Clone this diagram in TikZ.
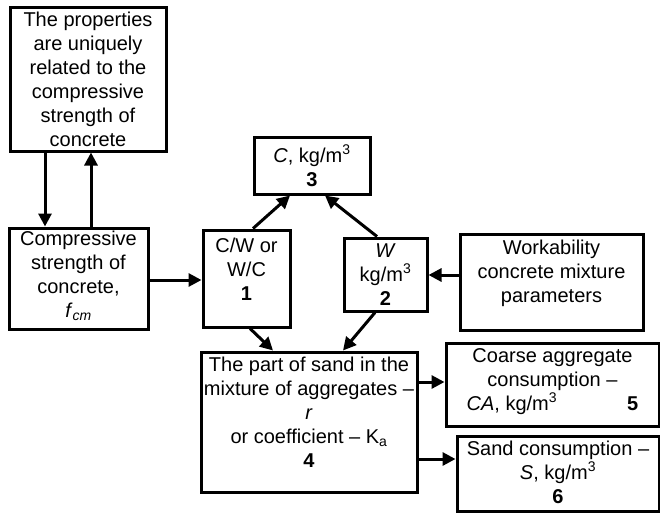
\documentclass[tikz,border=0pt]{standalone}
\usepackage{fontspec}
\setmainfont{Liberation Sans}
\usetikzlibrary{arrows.meta}
\tikzset{
  box/.style={draw,line width=3pt,inner sep=0pt},
  txt/.style={align=center,inner sep=0pt,font=\fontsize{20}{24}\selectfont},
  arr/.style={line width=3pt,-{Triangle[length=13pt,width=13pt]}}
}
\newcommand{\cube}{kg/m\textsuperscript{3}}

\begin{document}
\begin{tikzpicture}[x=1pt,y=-1pt]
  \useasboundingbox (0,0) rectangle (660,512);
  % boxes: name / centre / width / height
  \foreach \n/\x/\y/\w/\h in {A/88/79/156/144, B/78.5/278.5/139/101, n1/246.5/278.5/87/97,
      n3/312/165.5/116/57, n2/385.5/274.5/83/73, wk/551.5/282/183/96,
      n4/309/422/216/140, n5/552.5/384.5/213/83, n6/558/473.5/202/75}{
    \node[box,minimum width=\w pt,minimum height=\h pt] (\n) at (\x,\y) {};}
  % texts
  \node[txt] (tA) at (A) {The properties\\are uniquely\\related to the\\compressive\\strength of\\concrete};
  \node[txt] (tB) at ([yshift=3pt]B) {Compressive\\strength of\\concrete,\\\textit{f}\textsubscript{\textit{cm}}};
  \node[txt] (t1) at ([yshift=9pt]n1) {C/W or\\W/C\\\textbf{1}};
  \node[txt] (t3) at (n3) {\textit{C}, \cube\\\textbf{3}};
  \node[txt] (t2) at (n2) {\textit{W}\\\cube\\\textbf{2}};
  \node[txt] (twk) at ([yshift=9pt]wk) {Workability\\concrete mixture\\parameters};
  \node[txt] (t4) at ([yshift=9.5pt]n4) {The part of sand in the\\mixture of aggregates --\\\textit{r}\\or coefficient -- K\textsubscript{a}\\\textbf{4}};
  \node[txt] (t5) at ([yshift=3pt]n5) {Coarse aggregate\\consumption --\\\textit{CA}, \cube\hspace{70pt}\textbf{5}};
  \node[txt] (t6) at ([yshift=1.5pt]n6) {Sand consumption --\\\textit{S}, \cube\\\textbf{6}};
  % connectors
  \draw[arr] (45,0 |- A.south) -- (45,0 |- B.north);
  \draw[arr] (91,0 |- B.north) -- (91,0 |- A.south);
  \draw[arr] (B.east |- 0,280) -- (n1.west |- 0,280);
  \draw[arr] (253,0 |- n1.north) -- (290,0 |- n3.south);
  \draw[arr] (377,0 |- n2.north) -- (325,0 |- n3.south);
  \draw[arr] (wk.west |- 0,275) -- (n2.east |- 0,275);
  \draw[arr] (250,0 |- n1.south) -- (273,0 |- n4.north);
  \draw[arr] (375,0 |- n2.south) -- (343,0 |- n4.north);
  \draw[arr] (n4.east |- 0,382) -- (n5.west |- 0,382);
  \draw[arr] (n4.east |- 0,459) -- (n6.west |- 0,459);
\end{tikzpicture}
\end{document}
